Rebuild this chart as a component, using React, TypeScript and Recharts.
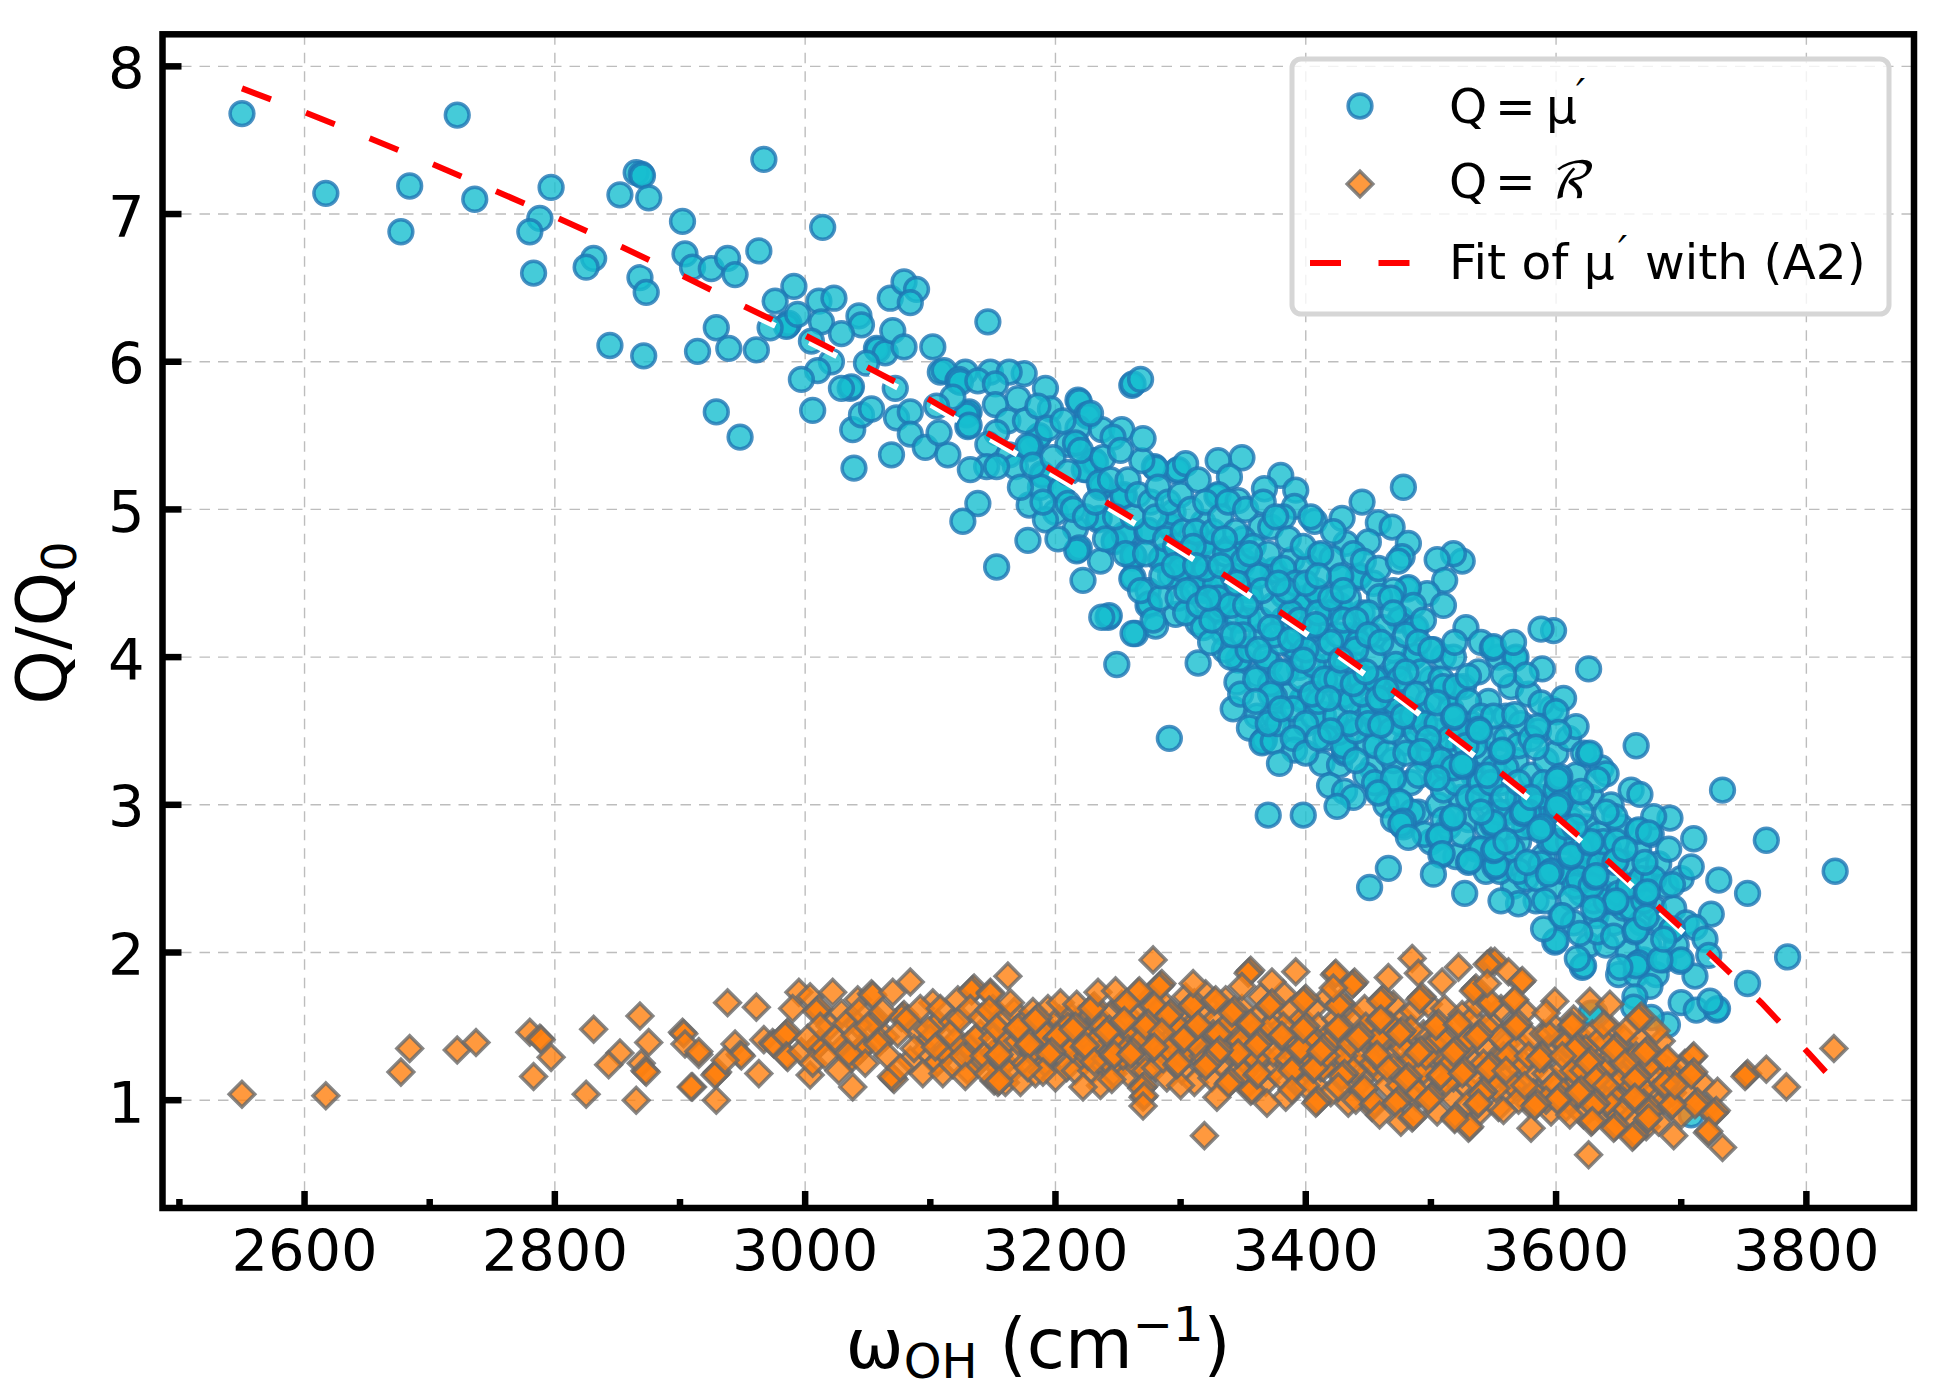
import { ComposedChart, Scatter, XAxis, YAxis, CartesianGrid } from 'recharts';

type Pt = [number, number];

const xTicks = [2500, 2600, 2700, 2800, 2900, 3000, 3100, 3200, 3300, 3400, 3500, 3600, 3700, 3800];
const xMajor = [2600, 2800, 3000, 3200, 3400, 3600, 3800];
const yTicks = [1, 2, 3, 4, 5, 6, 7, 8];

const fit: Pt[] = [[2550, 7.851], [2601, 7.686], [2652, 7.513], [2703, 7.336], [2754, 7.151], [2803, 6.971], [2854, 6.775], [2902, 6.582], [2952, 6.372], [3002, 6.169], [3051, 5.957], [3100, 5.74], [3147, 5.51], [3194, 5.285], [3242, 5.041], [3289, 4.804], [3335, 4.556], [3381, 4.297], [3426, 4.037], [3471, 3.766], [3514, 3.491], [3558, 3.202], [3601, 2.915], [3643, 2.608], [3683, 2.3], [3724, 1.983], [3764, 1.66], [3802, 1.317], [3817, 1.177]];

const muLeft: Pt[] = [[2550, 7.68], [2722, 7.67], [2617, 7.14], [2684, 7.19], [2736, 7.1], [2677, 6.88], [2797, 7.18], [2788, 6.97], [2780, 6.88], [2783, 6.6], [2865, 7.28], [2869, 7.27], [2870, 7.26], [2852, 7.13], [2875, 7.11], [2902, 6.95], [2967, 7.37], [3014, 6.91], [2831, 6.7], [2825, 6.64], [2868, 6.57], [2873, 6.47], [2904, 6.73], [2910, 6.64], [2925, 6.63], [2938, 6.7], [2944, 6.59], [2963, 6.75], [2991, 6.51], [2976, 6.41], [3011, 6.41], [3023, 6.43], [3043, 6.31], [3045, 6.25], [3068, 6.43], [3079, 6.54], [3089, 6.49], [3084, 6.4], [2986, 6.25], [2987, 6.26], [2985, 6.24], [2972, 6.23], [2994, 6.32], [3013, 6.27], [3029, 6.19], [3005, 6.14], [3021, 6], [3010, 5.94], [2997, 5.88], [2929, 6.23], [2939, 6.09], [2961, 6.08], [2914, 6.07], [2844, 6.11], [2871, 6.04], [2929, 5.66], [2948, 5.49], [3006, 5.67], [3039, 5.28], [3069, 5.37], [3038, 5.54], [3045, 5.64], [3053, 5.68], [3073, 5.62], [3084, 5.66], [3084, 5.51], [3096, 5.42], [3036, 5.82], [3037, 5.83], [3029, 5.82], [3057, 6.09], [3058, 6.08], [3064, 6.06], [3049, 5.99], [3072, 5.82], [3070, 6.21], [3079, 6.1], [3102, 6.1], [3108, 5.93]];

const muUpper: Pt[] = [[3146, 6.27], [3128, 5.93], [3148, 5.93], [3175, 5.92], [3163, 5.93], [3111, 5.94], [3122, 5.87], [3123, 5.88], [3124, 5.86], [3138, 5.87], [3152, 5.85], [3192, 5.82], [3170, 5.75], [3196, 5.68], [3152, 5.71], [3130, 5.65], [3131, 5.66], [3129, 5.64], [3118, 5.76], [3105, 5.7], [3130, 5.56], [3131, 5.57], [3162, 5.6], [3153, 5.52], [3186, 5.49], [3187, 5.5], [3179, 5.41], [3180, 5.42], [3146, 5.44], [3163, 5.37], [3145, 5.29], [3168, 5.29], [3132, 5.27], [3153, 5.29], [3114, 5.37], [3107, 5.52], [3138, 5.04], [3126, 4.92], [3153, 4.61], [3178, 4.79], [3179, 5.03], [3189, 5.24], [3190, 5.23], [3188, 5.15], [3204, 5.13], [3205, 5.14], [3200, 4.98], [3210, 5.04], [3192, 4.93], [3216, 4.87], [3218, 4.73], [3219, 4.74], [3217, 4.72], [3236, 4.65], [3222, 4.52], [3242, 4.27], [3243, 4.28], [3237, 4.27], [3264, 4.16], [3218, 5.74], [3219, 5.73], [3225, 5.64], [3226, 5.63], [3218, 5.55], [3217, 5.44], [3210, 5.44], [3230, 5.32], [3231, 5.33], [3225, 5.27], [3237, 5.54], [3253, 5.54], [3261, 5.84], [3262, 5.85], [3268, 5.88], [3236, 5.15], [3237, 5.16], [3254, 5.09], [3255, 5.1], [3234, 4.93], [3235, 4.94], [3247, 4.79], [3259, 4.84], [3262, 4.67], [3263, 4.68], [3262, 4.54]];

const muMiddle: Pt[] = [[3478, 5.15], [3445, 5.05], [3407, 4.92], [3429, 4.94], [3458, 4.91], [3469, 4.88], [3525, 4.65], [3518, 4.7], [3505, 4.66], [3482, 4.77], [3477, 4.68], [3432, 4.77], [3450, 4.78], [3511, 4.52], [3497, 4.43], [3380, 5.23], [3367, 5.14], [3392, 5.13], [3391, 5.02], [3349, 5.35], [3330, 5.33], [3339, 5.22], [3329, 5.09], [3330, 5.1], [3346, 5.06], [3297, 5.26], [3298, 5.27], [3304, 5.31], [3279, 5.29], [3280, 5.28], [3269, 5.33], [3270, 5.48], [3232, 5.32], [3246, 5.49], [3216, 5.45], [3178, 5.43], [3223, 5.27], [3235, 5.18], [3254, 5.09], [3247, 4.78], [3255, 4.83], [3273, 4.85], [3274, 4.86], [3262, 4.69], [3261, 4.53], [3285, 4.67], [3286, 4.68], [3284, 4.66], [3274, 4.45], [3274, 4.35], [3275, 4.36], [3296, 4.29], [3280, 4.21], [3262, 4.16], [3249, 3.95], [3314, 3.96], [3314, 4.23], [3291, 3.45], [3370, 2.93], [3398, 2.93], [3342, 3.65], [3361, 3.6], [3374, 3.61], [3355, 3.52], [3366, 3.43], [3367, 3.44], [3365, 3.42], [3374, 3.43], [3392, 3.51], [3391, 3.37], [3379, 3.28], [3413, 3.28], [3427, 3.27], [3419, 3.13], [3431, 3.09], [3438, 3.05], [3425, 2.99], [3431, 3.35], [3432, 3.36], [3427, 3.5], [3428, 3.51], [3426, 3.49], [3414, 3.61], [3397, 3.71], [3398, 3.72], [3385, 3.74], [3375, 3.73], [3413, 3.85], [3414, 3.86], [3440, 3.81], [3441, 3.82], [3429, 3.73], [3430, 3.74], [3459, 3.54], [3460, 3.55], [3458, 3.53], [3453, 3.25], [3458, 3.09], [3470, 3.17], [3476, 3.01], [3492, 3.35], [3493, 3.36], [3505, 3.19], [3506, 3.2], [3504, 3.18], [3526, 3.27], [3537, 3.51], [3538, 3.52], [3493, 3.62], [3464, 3.78], [3465, 3.79], [3471, 3.89], [3486, 4], [3487, 4.01], [3438, 4.14], [3439, 4.15], [3437, 4.13], [3455, 4.14], [3390, 4.06], [3391, 4.07], [3364, 4.14], [3395, 3.93], [3346, 3.98], [3347, 3.99], [3362, 3.88], [3345, 3.83], [3371, 3.96], [3330, 4.31], [3331, 4.32], [3354, 4.26], [3334, 4.17], [3382, 4.25], [3383, 4.26], [3409, 4.12], [3399, 4.39], [3400, 4.4], [3398, 4.38], [3426, 4.34], [3427, 4.35], [3442, 4.54], [3443, 4.55], [3427, 4.54], [3454, 4.5], [3481, 4.46], [3482, 4.47], [3470, 4.45], [3475, 4.25], [3476, 4.26], [3487, 4.19], [3488, 4.2], [3459, 4.41], [3374, 4.58], [3375, 4.59], [3389, 4.66], [3339, 4.73], [3318, 4.77], [3319, 4.78], [3291, 4.88], [3292, 4.89], [3318, 4.91], [3294, 4.98], [3364, 4.88], [3372, 4.88], [3309, 4.58], [3300, 4.54], [3320, 4.45], [3321, 4.46], [3339, 4.43], [3355, 4.45], [3349, 4.62], [3410, 4.69], [3421, 4.67], [3401, 4.61], [3350, 4.8], [3382, 4.95], [3412, 4.4], [3445, 4.3], [3360, 4.6], [3415, 4.2], [3470, 4.05], [3440, 3.95], [3500, 3.85], [3510, 4], [3420, 3.95], [3445, 3.62], [3480, 3.65], [3305, 4.65], [3330, 4.55], [3335, 4.05], [3372, 3.82], [3382, 4.42], [3406, 3.6], [3450, 3.42], [3480, 3.42], [3510, 3.42], [3515, 3.76]];

const muLower: Pt[] = [[3626, 3.92], [3589, 3.92], [3567, 3.99], [3568, 4], [3549, 4.06], [3550, 4.07], [3566, 4.1], [3598, 4.18], [3588, 4.19], [3519, 4.1], [3530, 3.87], [3576, 3.88], [3558, 3.88], [3606, 3.72], [3588, 3.69], [3567, 3.61], [3600, 3.63], [3616, 3.53], [3602, 3.49], [3585, 3.53], [3664, 3.4], [3626, 3.34], [3627, 3.35], [3640, 3.21], [3633, 3.17], [3602, 3.18], [3603, 3.19], [3601, 3.17], [3556, 3.36], [3557, 3.37], [3584, 3.39], [3538, 3.51], [3539, 3.5], [3492, 3.36], [3460, 3.54], [3464, 3.78], [3505, 3.69], [3518, 3.59], [3519, 3.6], [3526, 3.26], [3527, 3.28], [3525, 3.27], [3505, 3.18], [3470, 3.18], [3458, 3.08], [3475, 3.02], [3477, 2.88], [3478, 2.89], [3476, 2.87], [3482, 2.78], [3506, 2.78], [3507, 2.79], [3508, 2.66], [3509, 2.67], [3517, 2.91], [3518, 2.92], [3530, 2.61], [3531, 2.62], [3502, 2.53], [3466, 2.57], [3451, 2.44], [3527, 2.4], [3551, 2.58], [3552, 2.59], [3550, 2.69], [3551, 2.7], [3549, 2.87], [3550, 2.88], [3573, 2.94], [3574, 2.95], [3588, 2.84], [3589, 2.85], [3587, 2.83], [3602, 3], [3603, 3.01], [3601, 2.99], [3620, 3.09], [3577, 2.61], [3595, 2.54], [3596, 2.55], [3594, 2.53], [3591, 2.35], [3570, 2.33], [3556, 2.35], [3612, 2.37], [3611, 2.65], [3612, 2.66], [3627, 2.74], [3628, 2.75], [3647, 2.61], [3648, 2.62], [3631, 2.51], [3632, 2.52], [3647, 2.34], [3648, 2.35], [3672, 2.4], [3673, 2.41], [3671, 2.61], [3693, 2.46], [3708, 2.58], [3730, 2.49], [3753, 2.4], [3724, 2.26], [3711, 2.17], [3719, 2.09], [3722, 1.98], [3753, 1.79], [3785, 1.97], [3711, 1.84], [3699, 1.94], [3700, 1.95], [3691, 2.91], [3678, 2.92], [3665, 2.82], [3666, 2.83], [3674, 2.81], [3647, 2.92], [3667, 3.07], [3710, 2.77], [3733, 3.1], [3768, 2.76], [3823, 2.55], [3633, 2.14], [3646, 2.11], [3619, 2.13], [3599, 2.07], [3600, 2.08], [3590, 2.16], [3665, 1.92], [3666, 1.93], [3664, 1.91], [3651, 1.9], [3621, 1.9], [3622, 1.91], [3617, 1.96], [3675, 1.77], [3683, 1.95], [3692, 2.15], [3693, 2.16], [3663, 2.14], [3664, 2.15], [3672, 2.24], [3686, 2.09], [3663, 1.7], [3700, 1.66], [3712, 1.61], [3728, 1.61], [3729, 1.62], [3723, 1.67], [3689, 1.51], [3676, 1.56], [3631, 1.59], [3628, 1.59], [3662, 1.63], [3708, 0.9], [3640, 2.95], [3655, 2.7], [3615, 2.85], [3570, 3.15], [3545, 3.2], [3580, 3.05], [3540, 2.95], [3560, 2.75], [3630, 2.3], [3605, 2.25]];

const muDense: Pt[] = [[3172, 5.15], [3176, 5.6], [3182, 5.3], [3186, 5.7], [3190, 5.05], [3194, 5.55], [3198, 5.35], [3202, 4.8], [3206, 5.6], [3210, 5.25], [3214, 5], [3220, 5.4], [3224, 4.95], [3228, 5.65], [3232, 5.05], [3238, 5.35], [3240, 4.8], [3244, 5.2], [3248, 4.95], [3252, 5.4], [3256, 4.7], [3258, 5.2], [3262, 4.95], [3266, 5.1], [3268, 4.45], [3272, 4.7], [3276, 5.05], [3278, 4.25], [3280, 4.95], [3282, 5.15], [3284, 4.4], [3288, 4.8], [3290, 5.05], [3292, 4.55], [3296, 4.75], [3298, 4.4], [3300, 5.1], [3302, 4.85], [3304, 4.3], [3306, 4.7], [3308, 5], [3310, 4.45], [3312, 4.85], [3314, 5.2], [3316, 4.55], [3318, 4.2], [3320, 5.05], [3322, 4.7], [3324, 4.1], [3326, 4.85], [3328, 4.5], [3332, 4.95], [3334, 4.35], [3336, 4.7], [3338, 5.05], [3340, 4], [3342, 4.55], [3344, 4.85], [3346, 4.25], [3348, 3.75], [3350, 4.65], [3352, 5], [3354, 4.05], [3356, 4.4], [3358, 4.75], [3360, 3.85], [3362, 4.55], [3364, 4.25], [3366, 5.05], [3368, 4], [3370, 4.7], [3372, 3.75], [3374, 4.35], [3376, 4.95], [3378, 3.55], [3380, 4.1], [3382, 4.6], [3384, 3.9], [3386, 4.8], [3388, 4.3], [3390, 3.65], [3392, 4.5], [3394, 4.15], [3396, 3.85], [3398, 4.75], [3400, 3.55], [3402, 4.2], [3404, 4.95], [3406, 3.95], [3408, 4.45], [3410, 3.7], [3412, 4.7], [3414, 4.05], [3416, 3.45], [3418, 4.3], [3420, 3.85], [3422, 4.85], [3424, 3.6], [3426, 4.15], [3428, 4.55], [3430, 3.4], [3432, 3.95], [3434, 4.4], [3436, 3.7], [3438, 4.7], [3440, 3.5], [3442, 4.1], [3444, 3.85], [3446, 4.65], [3448, 3.2], [3450, 4.3], [3452, 3.65], [3454, 4], [3456, 3.4], [3458, 4.6], [3460, 3.85], [3462, 4.2], [3464, 3], [3466, 3.6], [3468, 4.4], [3470, 3.3], [3472, 3.95], [3474, 4.65], [3476, 3.55], [3478, 2.85], [3480, 4.15], [3482, 3.75], [3484, 3.15], [3486, 4.35], [3488, 3.5], [3490, 2.95], [3492, 3.9], [3494, 4.25], [3496, 3.3], [3498, 3.7], [3500, 2.75], [3502, 4.05], [3504, 3.5], [3506, 3], [3508, 3.85], [3510, 4.35], [3512, 3.25], [3514, 2.85], [3516, 3.65], [3518, 4], [3520, 2.65], [3522, 3.4], [3524, 3.05], [3526, 3.8], [3528, 4.2], [3530, 2.9], [3532, 3.55], [3534, 3.2], [3536, 2.7], [3538, 3.9], [3540, 4.1], [3542, 3.35], [3544, 2.55], [3546, 3.7], [3548, 3], [3550, 3.45], [3552, 2.8], [3554, 4], [3556, 3.15], [3558, 2.6], [3560, 3.6], [3562, 2.95], [3564, 3.8], [3566, 2.45], [3568, 3.3], [3570, 2.75], [3572, 3.55], [3574, 3.05], [3576, 2.5], [3578, 3.75], [3580, 3.2], [3582, 2.85], [3584, 2.35], [3586, 3.5], [3588, 3.05], [3590, 2.65], [3592, 3.3], [3594, 2.95], [3596, 3.65], [3598, 2.45], [3600, 3.35], [3602, 2.75], [3604, 2.25], [3606, 3.1], [3608, 2.55], [3610, 3.45], [3612, 2.9], [3614, 2.2], [3616, 3.2], [3618, 2.6], [3620, 2.4], [3622, 3.35], [3624, 2.85], [3626, 2.05], [3628, 3.05], [3630, 2.55], [3632, 2.25], [3634, 2.8], [3636, 3.25], [3638, 2.4], [3640, 2.05], [3642, 2.7], [3644, 3], [3646, 2.2], [3648, 2.5], [3650, 1.85], [3652, 2.85], [3654, 2.3], [3656, 2.6], [3658, 2], [3660, 3.1], [3662, 2.45], [3664, 1.85], [3666, 2.7], [3668, 2.2], [3670, 1.95], [3672, 2.55], [3674, 2.05], [3676, 2.8], [3678, 2.3], [3680, 1.85], [3682, 2.6], [3684, 2.2], [3686, 1.95], [3688, 2.45], [3690, 2.7], [3694, 2.3], [3696, 2.05], [3700, 2.5], [3704, 2.2], [3300, 4.6], [3310, 4.75], [3320, 4.6], [3330, 4.4], [3340, 4.35], [3350, 4.15], [3355, 4.7], [3365, 4.45], [3375, 4.15], [3380, 3.9], [3385, 4.45], [3395, 4.25], [3400, 4.05], [3405, 3.75], [3410, 4.3], [3415, 3.85], [3420, 4.1], [3425, 3.85], [3430, 4.25], [3435, 3.55], [3440, 4.05], [3445, 3.75], [3450, 3.55], [3455, 3.85], [3460, 3.7], [3465, 3.35], [3470, 3.7], [3475, 3.85], [3480, 3.35], [3485, 3.6], [3490, 3.2], [3495, 3.55], [3500, 3.35], [3505, 3.55], [3510, 3.1], [3515, 3.45], [3520, 3.15], [3525, 3.5], [3530, 3.05], [3535, 3.4], [3540, 3.15], [3545, 2.85], [3550, 3.25], [3555, 2.95], [3560, 3.25], [3565, 2.7], [3570, 3.05], [3575, 2.85], [3580, 2.6], [3585, 3], [3590, 2.9], [3595, 2.75], [3600, 2.95], [3605, 2.55], [3610, 2.75], [3615, 2.45], [3620, 2.7], [3625, 2.6], [3630, 2.35], [3635, 2.6], [3640, 2.35], [3650, 2.4], [3660, 2.3], [3670, 2.35]];

const muCore: Pt[] = [[3285, 4.55], [3295, 4.62], [3305, 4.45], [3315, 4.35], [3325, 4.25], [3335, 4.8], [3345, 4.5], [3312, 4.62], [3322, 4.4], [3332, 4.62], [3342, 4.15], [3352, 4.35], [3362, 4.05], [3372, 4.2], [3378, 4.5], [3388, 4.12], [3398, 3.98], [3408, 4.22], [3418, 3.72], [3428, 3.98], [3438, 3.82], [3448, 3.9], [3458, 3.72], [3468, 3.5], [3478, 3.6], [3488, 3.75], [3498, 3.45], [3508, 3.3], [3518, 3.25], [3528, 3.4], [3538, 3.05], [3548, 3.15], [3558, 3.05], [3568, 2.9], [3578, 2.95], [3588, 2.6], [3598, 2.75], [3608, 2.85], [3618, 2.5], [3628, 2.45], [3638, 2.75], [3648, 2.75], [3658, 2.45], [3668, 2.5], [3678, 2.5], [3400, 4.5], [3410, 4.55], [3420, 4.4], [3430, 4.45], [3440, 4.25], [3450, 4.15], [3460, 4.1], [3470, 4.3], [3480, 3.9], [3490, 4.1], [3500, 4.05], [3510, 3.8], [3520, 3.8], [3530, 3.7], [3540, 3.6], [3550, 3.6], [3560, 3.45], [3570, 3.4], [3580, 3.45], [3590, 3.15], [3600, 3.1], [3610, 3.05], [3620, 2.95], [3360, 3.7], [3370, 3.55], [3380, 3.65], [3390, 3.45], [3400, 3.35], [3410, 3.45], [3420, 3.5], [3440, 3.3], [3455, 3.15], [3470, 2.9], [3485, 2.95], [3495, 2.8], [3510, 2.9], [3525, 2.8], [3540, 2.7], [3555, 2.55], [3570, 2.55], [3585, 2.5]];

const rLeft: Pt[] = [[2550, 1.04], [2617, 1.03], [2684, 1.35], [2677, 1.19], [2722, 1.34], [2737, 1.39], [2780, 1.46], [2788, 1.42], [2789, 1.41], [2797, 1.29], [2783, 1.16], [2831, 1.48], [2825, 1.04], [2868, 1.57], [2852, 1.32], [2843, 1.24], [2875, 1.39], [2869, 1.25], [2872, 1.2], [2873, 1.19], [2865, 1], [2902, 1.46], [2903, 1.45], [2904, 1.38], [2910, 1.09], [2915, 1.31], [2938, 1.66], [2961, 1.63], [2915, 1.33], [2909, 1.09], [2929, 1.18], [2930, 1.19], [2928, 1.17], [2929, 1], [2944, 1.38], [2948, 1.31], [2949, 1.3], [2936, 1.27], [2963, 1.18], [2967, 1.41], [2974, 1.39], [2975, 1.38], [2985, 1.45], [2986, 1.46], [2984, 1.44], [2985, 1.3], [2986, 1.29], [2995, 1.73], [2990, 1.62], [3004, 1.7], [3010, 1.61], [3011, 1.62], [3009, 1.6], [3022, 1.73], [3029, 1.59], [3020, 1.5], [3010, 1.37], [3011, 1.38], [3009, 1.36], [2997, 1.33], [3004, 1.17], [3029, 1.35], [3045, 1.35], [3046, 1.36], [3044, 1.34], [3036, 1.29], [3037, 1.28], [3038, 1.09], [3042, 1.68], [3053, 1.72], [3054, 1.71], [3056, 1.54], [3057, 1.55], [3055, 1.53], [3042, 1.51], [3078, 1.57], [3079, 1.58], [3077, 1.56], [3070, 1.73], [3064, 1.43], [3084, 1.8], [3102, 1.66], [3089, 1.47], [3105, 1.51], [3106, 1.52], [3084, 1.27], [3070, 1.15], [3071, 1.14], [3069, 1.16], [3096, 1.34], [3105, 1.25], [3106, 1.26], [3113, 1.33], [3114, 1.34], [3112, 1.32], [3130, 1.36], [3131, 1.37], [3129, 1.35], [3130, 1.37], [3118, 1.53], [3122, 1.68], [3134, 1.75], [3135, 1.76], [3133, 1.74], [3148, 1.73], [3149, 1.61], [3150, 1.62], [3148, 1.6], [3138, 1.25], [3139, 1.26], [3130, 1.2], [3152, 1.14], [3153, 1.15], [3151, 1.13], [3152, 1.33], [3153, 1.34], [3151, 1.32], [3154, 1.48], [3120, 1.4], [3140, 1.45], [3100, 1.42], [3060, 1.4], [3155, 1.22]];

const rMiddle: Pt[] = [[3162, 1.84], [3164, 1.66], [3148, 1.72], [3147, 1.61], [3153, 1.49], [3154, 1.3], [3155, 1.31], [3154, 1.12], [3155, 1.13], [3169, 1.48], [3170, 1.49], [3178, 1.37], [3179, 1.38], [3185, 1.55], [3186, 1.56], [3184, 1.54], [3204, 1.66], [3217, 1.65], [3201, 1.42], [3202, 1.43], [3196, 1.32], [3197, 1.33], [3195, 1.31], [3190, 1.19], [3178, 1.22], [3215, 1.49], [3216, 1.5], [3214, 1.48], [3223, 1.36], [3224, 1.37], [3230, 1.63], [3231, 1.64], [3229, 1.62], [3242, 1.47], [3243, 1.48], [3241, 1.46], [3234, 1.73], [3248, 1.74], [3231, 1.26], [3246, 1.3], [3247, 1.31], [3261, 1.32], [3262, 1.33], [3260, 1.31], [3222, 1.09], [3245, 1.14], [3270, 1.09], [3271, 1.1], [3269, 1.08], [3270, 1.02], [3271, 1.03], [3270, 0.96], [3278, 1.95], [3284, 1.78], [3285, 1.79], [3283, 1.77], [3266, 1.73], [3267, 1.74], [3278, 1.63], [3279, 1.64], [3256, 1.65], [3257, 1.66], [3273, 1.51], [3274, 1.52], [3272, 1.5], [3291, 1.58], [3292, 1.59], [3290, 1.57], [3254, 1.53], [3255, 1.54], [3285, 1.46], [3302, 1.41], [3303, 1.42], [3278, 1.35], [3279, 1.36], [3297, 1.24], [3298, 1.25], [3310, 1.65], [3311, 1.66], [3309, 1.64], [3310, 1.79], [3327, 1.67], [3328, 1.68], [3342, 1.6], [3343, 1.61], [3341, 1.59], [3355, 1.87], [3356, 1.88], [3354, 1.86], [3349, 1.77], [3373, 1.8], [3392, 1.87], [3372, 1.65], [3373, 1.66], [3371, 1.64], [3355, 1.51], [3356, 1.52], [3329, 1.44], [3330, 1.45], [3313, 1.5], [3314, 1.51], [3362, 1.38], [3363, 1.39], [3361, 1.37], [3345, 1.31], [3346, 1.32], [3330, 1.33], [3331, 1.34], [3329, 1.32], [3321, 1.24], [3322, 1.25], [3320, 1.23], [3339, 1.12], [3340, 1.13], [3338, 1.11], [3329, 1.02], [3356, 1.06], [3357, 1.07], [3369, 0.98], [3361, 1.17], [3362, 1.18], [3380, 1.16], [3390, 1.21], [3391, 1.22], [3389, 1.2], [3389, 1.07], [3409, 0.99], [3410, 1], [3408, 0.98], [3406, 1.21], [3407, 1.22], [3395, 1.34], [3396, 1.35], [3413, 1.34], [3414, 1.35], [3412, 1.33], [3399, 1.49], [3400, 1.5], [3398, 1.48], [3399, 1.68], [3400, 1.69], [3398, 1.67], [3380, 1.43], [3381, 1.44], [3319, 0.76]];

const rRight: Pt[] = [[3427, 1.65], [3428, 1.66], [3426, 1.64], [3425, 1.48], [3426, 1.49], [3443, 1.43], [3444, 1.44], [3442, 1.42], [3438, 1.79], [3439, 1.8], [3437, 1.78], [3423, 1.85], [3424, 1.86], [3422, 1.76], [3461, 1.68], [3462, 1.69], [3460, 1.67], [3466, 1.83], [3485, 1.96], [3490, 1.86], [3492, 1.69], [3493, 1.7], [3491, 1.68], [3522, 1.9], [3509, 1.8], [3547, 1.93], [3548, 1.94], [3535, 1.75], [3536, 1.76], [3534, 1.74], [3505, 1.51], [3506, 1.52], [3504, 1.5], [3476, 1.46], [3477, 1.47], [3475, 1.45], [3459, 1.54], [3460, 1.55], [3491, 1.33], [3492, 1.34], [3490, 1.32], [3519, 1.33], [3520, 1.34], [3518, 1.32], [3538, 1.44], [3539, 1.45], [3537, 1.43], [3547, 1.65], [3548, 1.66], [3521, 1.51], [3522, 1.52], [3456, 1.3], [3457, 1.31], [3430, 1.17], [3431, 1.18], [3429, 1.16], [3426, 1.09], [3446, 1.07], [3447, 1.08], [3454, 0.97], [3455, 0.98], [3459, 0.9], [3473, 0.99], [3474, 1], [3472, 0.98], [3481, 1.15], [3482, 1.16], [3480, 1.14], [3476, 0.85], [3485, 0.88], [3486, 0.89], [3499, 1.01], [3500, 1.02], [3498, 1], [3507, 1.16], [3508, 1.17], [3519, 0.88], [3520, 0.89], [3530, 0.81], [3531, 0.82], [3526, 1.19], [3527, 1.2], [3525, 1.18], [3547, 1.22], [3548, 1.23], [3546, 1.21], [3541, 1.05], [3542, 1.06], [3540, 1.04], [3551, 1.94], [3545, 1.92], [3562, 1.87], [3572, 1.8], [3573, 1.81], [3545, 1.79], [3599, 1.67], [3592, 1.59], [3566, 1.67], [3567, 1.68], [3627, 1.67], [3643, 1.65], [3612, 1.5], [3613, 1.51], [3638, 1.51], [3569, 1.51], [3570, 1.52], [3568, 1.5], [3667, 1.56], [3668, 1.57], [3666, 1.55], [3680, 1.47], [3656, 1.47], [3647, 1.35], [3648, 1.36], [3646, 1.34], [3616, 1.35], [3617, 1.36], [3615, 1.34], [3672, 1.33], [3673, 1.34], [3671, 1.32], [3709, 1.29], [3710, 1.3], [3588, 1.29], [3589, 1.3], [3587, 1.28], [3627, 1.26], [3628, 1.27], [3626, 1.25], [3688, 1.27], [3689, 1.28], [3709, 1.18], [3710, 1.19], [3708, 1.17], [3752, 1.17], [3753, 1.18], [3751, 1.16], [3768, 1.21], [3784, 1.09], [3822, 1.35], [3729, 1.06], [3712, 0.98], [3713, 0.99], [3711, 0.97], [3727, 0.92], [3728, 0.93], [3726, 0.91], [3688, 1.12], [3689, 1.13], [3687, 1.11], [3664, 1.15], [3665, 1.16], [3663, 1.14], [3633, 1.15], [3634, 1.16], [3632, 1.14], [3602, 1.01], [3603, 1.02], [3601, 1], [3619, 1.06], [3620, 1.07], [3618, 1.05], [3640, 0.98], [3641, 0.99], [3662, 1.01], [3663, 1.02], [3631, 0.97], [3632, 0.98], [3630, 0.96], [3675, 0.93], [3676, 0.94], [3674, 0.92], [3692, 0.96], [3693, 0.97], [3694, 0.76], [3721, 0.78], [3722, 0.79], [3733, 0.68], [3626, 0.63], [3647, 0.82], [3648, 0.83], [3646, 0.81], [3662, 0.76], [3663, 0.77], [3661, 0.75], [3673, 0.87], [3674, 0.88], [3628, 0.85], [3629, 0.86], [3611, 0.9], [3580, 0.81], [3519, 0.87], [3584, 0.97], [3585, 0.98], [3583, 0.96], [3558, 0.93], [3537, 0.97], [3538, 0.98], [3605, 1.3], [3560, 1.2], [3575, 1.1], [3655, 1.25], [3640, 1.1], [3695, 1.1]];

const rDense: Pt[] = [[3002, 1.42], [3006, 1.25], [3012, 1.5], [3016, 1.3], [3024, 1.42], [3027, 1.2], [3033, 1.52], [3035, 1.32], [3040, 1.44], [3043, 1.6], [3048, 1.25], [3050, 1.5], [3058, 1.38], [3062, 1.6], [3066, 1.3], [3074, 1.45], [3076, 1.22], [3082, 1.55], [3087, 1.35], [3092, 1.62], [3094, 1.18], [3098, 1.48], [3104, 1.36], [3108, 1.62], [3110, 1.18], [3116, 1.45], [3118, 1.24], [3124, 1.55], [3126, 1.3], [3128, 1.16], [3132, 1.62], [3136, 1.42], [3141, 1.56], [3143, 1.3], [3146, 1.18], [3150, 1.42], [3157, 1.55], [3159, 1.25], [3160, 1.12], [3162, 1.4], [3165, 1.2], [3167, 1.6], [3170, 1.3], [3172, 1.12], [3174, 1.52], [3176, 1.25], [3180, 1.45], [3182, 1.6], [3184, 1.18], [3187, 1.35], [3189, 1.5], [3192, 1.25], [3194, 1.62], [3198, 1.45], [3200, 1.15], [3203, 1.55], [3205, 1.3], [3207, 1.4], [3209, 1.22], [3211, 1.58], [3213, 1.38], [3216, 1.2], [3219, 1.55], [3221, 1.3], [3225, 1.45], [3227, 1.6], [3229, 1.2], [3232, 1.4], [3235, 1.55], [3237, 1.25], [3239, 1.35], [3244, 1.58], [3246, 1.18], [3249, 1.42], [3251, 1.25], [3253, 1.65], [3256, 1.4], [3258, 1.18], [3260, 1.55], [3263, 1.25], [3265, 1.45], [3268, 1.6], [3270, 1.3], [3272, 1.2], [3275, 1.42], [3277, 1.7], [3280, 1.22], [3282, 1.5], [3284, 1.35], [3287, 1.65], [3289, 1.15], [3293, 1.42], [3295, 1.3], [3299, 1.55], [3301, 1.2], [3304, 1.7], [3306, 1.35], [3308, 1.5], [3311, 1.12], [3314, 1.3], [3316, 1.58], [3318, 1.42], [3320, 1.72], [3323, 1.35], [3325, 1.15], [3328, 1.55], [3332, 1.25], [3334, 1.45], [3336, 1.68], [3340, 1.32], [3344, 1.5], [3347, 1.2], [3349, 1.62], [3351, 1.38], [3353, 1.1], [3358, 1.25], [3360, 1.55], [3364, 1.7], [3366, 1.3], [3368, 1.12], [3370, 1.45], [3375, 1.2], [3377, 1.55], [3379, 1.3], [3382, 1.72], [3384, 1.02], [3386, 1.4], [3388, 1.6], [3392, 1.3], [3394, 1.12], [3397, 1.55], [3402, 1.2], [3404, 1.4], [3406, 1.62], [3408, 1.1], [3410, 1.5], [3412, 1.22], [3416, 1.42], [3418, 1.7], [3420, 1.05], [3422, 1.3], [3424, 1.55], [3428, 1.2], [3430, 1.42], [3432, 1.62], [3434, 0.98], [3436, 1.28], [3440, 1.55], [3441, 1.1], [3445, 1.3], [3447, 1.62], [3449, 1.18], [3451, 1.45], [3453, 0.95], [3458, 1.2], [3460, 1.38], [3463, 1.55], [3465, 1.1], [3468, 1.28], [3470, 1.65], [3472, 1.42], [3475, 1.1], [3478, 1.55], [3480, 1.25], [3483, 1.38], [3486, 1.6], [3488, 1.02], [3490, 1.2], [3494, 1.45], [3496, 1.1], [3498, 1.65], [3501, 1.3], [3503, 1.42], [3505, 0.92], [3509, 1.1], [3511, 1.62], [3513, 1.25], [3515, 1.42], [3517, 1.02], [3523, 1.22], [3525, 1.58], [3528, 1.38], [3530, 1.08], [3533, 1.55], [3535, 1.25], [3537, 1.65], [3539, 0.92], [3544, 1.35], [3546, 1.12], [3550, 1.5], [3552, 1.28], [3554, 0.95], [3556, 1.62], [3558, 1.15], [3560, 1.38], [3563, 1.05], [3565, 1.5], [3567, 1.25], [3571, 1.38], [3573, 1.1], [3575, 1.6], [3578, 0.98], [3580, 1.42], [3582, 1.2], [3586, 1.05], [3590, 1.45], [3592, 1.18], [3594, 1.35], [3596, 0.92], [3598, 1.5], [3600, 1.12], [3604, 1.4], [3606, 1.22], [3608, 0.95], [3610, 1.32], [3612, 1.08], [3614, 1.55], [3618, 1.18], [3620, 1.42], [3622, 0.9], [3624, 1.08], [3629, 1.45], [3631, 1.18], [3635, 1.35], [3637, 0.92], [3639, 1.25], [3642, 1.05], [3644, 1.48], [3646, 1.12], [3650, 0.9], [3652, 1.25], [3654, 1.42], [3657, 1.05], [3659, 0.88], [3661, 1.28], [3666, 1.02], [3668, 1.4], [3670, 1.2], [3672, 0.82], [3678, 1.05], [3680, 1.28], [3682, 0.85], [3684, 1.4], [3686, 1], [3690, 1.2], [3693, 1.05], [3698, 1.15], [3700, 0.9], [3703, 1.25], [3705, 1.05], [3716, 1.12], [3720, 0.95], [3181, 1.33], [3189, 1.42], [3197, 1.38], [3206, 1.48], [3214, 1.35], [3222, 1.44], [3230, 1.38], [3238, 1.5], [3246, 1.4], [3254, 1.3], [3262, 1.45], [3270, 1.5], [3278, 1.42], [3286, 1.28], [3294, 1.5], [3302, 1.3], [3310, 1.42], [3318, 1.3], [3326, 1.45], [3334, 1.35], [3342, 1.45], [3350, 1.28], [3358, 1.45], [3366, 1.42], [3374, 1.32], [3382, 1.5], [3390, 1.38], [3398, 1.25], [3406, 1.42], [3414, 1.22], [3422, 1.42], [3430, 1.3], [3438, 1.2], [3446, 1.42], [3454, 1.25], [3462, 1.42], [3470, 1.22], [3478, 1.35], [3486, 1.28], [3494, 1.2], [3502, 1.38], [3510, 1.28], [3518, 1.15], [3526, 1.35], [3534, 1.15], [3542, 1.25], [3550, 1.15], [3558, 1.3], [3566, 1.1], [3574, 1.25], [3582, 1.05], [3590, 1.28], [3598, 1.1], [3606, 1.05], [3614, 1.2], [3622, 1.2], [3630, 1.08], [3638, 1.2], [3646, 1.02], [3654, 1.15], [3662, 1.1], [3670, 1.08], [3678, 1.18], [3686, 1.1], [3170, 1.4], [3192, 1.45], [3210, 1.5], [3226, 1.3], [3240, 1.28], [3258, 1.35], [3268, 1.4], [3282, 1.6], [3290, 1.35], [3300, 1.48], [3312, 1.38], [3326, 1.28], [3336, 1.5], [3348, 1.4], [3360, 1.28], [3372, 1.5], [3386, 1.28], [3402, 1.42], [3416, 1.3], [3428, 1.5], [3436, 1.38], [3448, 1.5], [3458, 1.42], [3468, 1.5], [3484, 1.48], [3496, 1.3], [3508, 1.42], [3516, 1.25], [3530, 1.42], [3544, 1.5], [3556, 1.42], [3562, 1.3], [3578, 1.3], [3594, 1.45], [3608, 1.38], [3624, 1.35], [3636, 1.42], [3650, 1.32], [3664, 1.3], [3676, 1.25], [3236, 1.1], [3300, 1.1], [3350, 1.18], [3400, 1.1], [3440, 1], [3465, 1.22], [3490, 1.05], [3512, 1.12], [3530, 0.98], [3552, 1.08], [3570, 1], [3592, 1], [3610, 1], [3635, 1.02], [3655, 0.95], [3670, 0.98]];

const muAll = [...muLeft, ...muUpper, ...muMiddle, ...muDense, ...muCore, ...muLower].map(([x, y]) => ({ x, y }));
const rAll = [...rLeft, ...rDense, ...rMiddle, ...rRight].map(([x, y]) => ({ x, y }));
const fitLine = fit.map(([x, y]) => ({ x, y }));

const font = '"DejaVu Sans"';
const spine = 6.5;

const Dot = ({ cx, cy }: any) => <circle cx={cx} cy={cy} r={11.9} fill="#17becf" fillOpacity={0.8} stroke="#1f77b4" strokeOpacity={0.8} strokeWidth={3.5} />;

const Diamond = ({ cx, cy }: any) => {
  const d = 12.8;
  return <polygon points={`${cx},${cy - d} ${cx + d},${cy} ${cx},${cy + d} ${cx - d},${cy}`} fill="#ff7f0e" fillOpacity={0.8} stroke="#696969" strokeOpacity={0.8} strokeWidth={3.5} />;
};

const XTick = ({ x, y, payload }: any) => {
  const major = xMajor.includes(payload.value);
  return (
    <g>
      <line x1={x} x2={x} y1={y} y2={y - (major ? 19 : 11)} stroke="#000" strokeWidth={6.5} />
      {major && <text x={x} y={y + 61} textAnchor="middle" fontFamily={font} fontSize={57.5} fill="#000">{payload.value}</text>}
    </g>
  );
};

const YTick = ({ x, y, payload }: any) => (
  <g>
    <line x1={x} x2={x + 21} y1={y} y2={y} stroke="#000" strokeWidth={6.5} />
    <text x={x - 16} y={y + 22.5} textAnchor="end" fontFamily={font} fontSize={57.5} fill="#000">{payload.value}</text>
  </g>
);

function ChartOverlay() {
  return (
    <svg width={1941} height={1390} style={{ position: 'absolute', left: 0, top: 0, pointerEvents: 'none' }}>
      <rect x={162.5} y={34.3} width={1751.5} height={1173.7} fill="none" stroke="#000" strokeWidth={spine} />
      <rect x={1292} y={59} width={597} height={255} rx={9} fill="#fff" fillOpacity={0.8} stroke="#d6d6d6" strokeWidth={5} />
      <Dot cx={1360} cy={106} />
      <Diamond cx={1360} cy={184} />
      <line x1={1310} x2={1410} y1={263} y2={263} stroke="#ff0000" strokeWidth={6} strokeDasharray="31 37.5" />
      <g fontFamily={font} fontSize={48.6} fill="#000">
        <text y={122.5}><tspan x={1449}>Q</tspan><tspan x={1495}>=</tspan><tspan x={1546}>μ</tspan></text>
        <text x={1576} y={108} fontSize={40} fontStyle="italic">′</text>
        <text y={198}><tspan x={1449}>Q</tspan><tspan x={1495}>=</tspan></text>
        <text x={1546} y={198} fontFamily='"DejaVu Math TeX Gyre", "DejaVu Sans"' fontStyle="italic" fontSize={50}>ℛ</text>
        <text y={279}><tspan x={1449}>Fit of μ</tspan><tspan x={1645}>with (A2)</tspan></text>
        <text x={1618} y={265} fontSize={40} fontStyle="italic">′</text>
      </g>
    </svg>
  );
}

const XLabel = () => (
  <text x={1038} y={1368} textAnchor="middle" fontFamily={font} fontSize={69.5} fill="#000">
    ω<tspan fontSize={48} dy={10}>OH</tspan><tspan dy={-10}> (cm</tspan><tspan fontSize={48} dy={-27}>−1</tspan><tspan dy={27}>)</tspan>
  </text>
);

const YLabel = () => (
  <text transform="translate(66,623) rotate(-90)" textAnchor="middle" fontFamily={font} fontSize={69.5} fill="#000">
    Q/Q<tspan fontSize={48} dy={10}>0</tspan>
  </text>
);

const fitStyle = { strokeWidth: 6, strokeDasharray: '31 37.5', fill: 'none' };

export default function App() {
  return (
    <div style={{ position: 'absolute', left: 0, top: 0, width: 1941, height: 1390, background: '#fff' }}>
      <style>{`body{margin:0} .fit-shadow{transform:translate(1.5px,3px)}`}</style>
      <ComposedChart width={1941} height={1390} margin={{ top: 34.3, right: 27, bottom: 0, left: 0 }}>
        <CartesianGrid stroke="#bdbdbd" strokeWidth={1.4} strokeDasharray="10.5 8" horizontalValues={yTicks} verticalValues={xMajor} />
        <XAxis dataKey="x" type="number" domain={[2486.5, 3886]} ticks={xTicks} interval={0} height={182} axisLine={false} tickLine={false} tickSize={0} tick={<XTick />} allowDataOverflow label={<XLabel />} />
        <YAxis dataKey="y" type="number" domain={[0.27, 8.217]} ticks={yTicks} interval={0} width={162.5} axisLine={false} tickLine={false} tickSize={0} tick={<YTick />} allowDataOverflow label={<YLabel />} />
        <Scatter data={muAll} shape={<Dot />} isAnimationActive={false} />
        <Scatter data={rAll} shape={<Diamond />} isAnimationActive={false} />
        <Scatter data={fitLine} className="fit-shadow" line={{ ...fitStyle, stroke: '#fff' }} shape={() => <g />} isAnimationActive={false} />
        <Scatter data={fitLine} line={{ ...fitStyle, stroke: '#ff0000' }} shape={() => <g />} isAnimationActive={false} />
      </ComposedChart>
      <ChartOverlay />
    </div>
  );
}
